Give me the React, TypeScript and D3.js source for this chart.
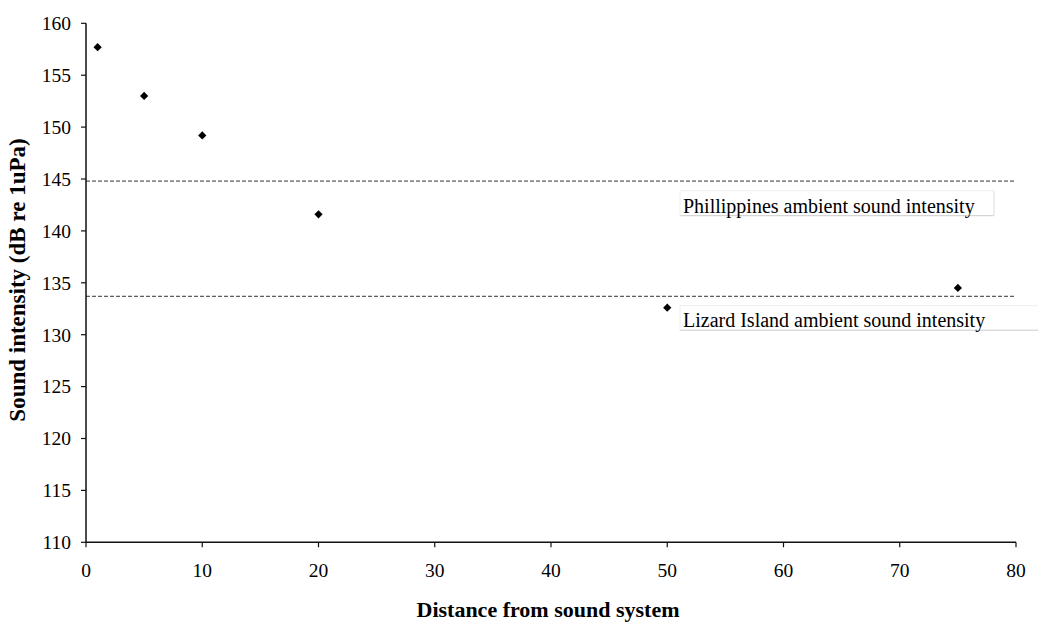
import React from "react";
import * as d3 from "d3";

const distances = [1, 5, 10, 20, 50, 75];
const intensities = [157.7, 153.0, 149.2, 141.6, 132.6, 134.5];
const refLines = [
  { label: "Phillippines ambient sound intensity", value: 144.8 },
  { label: "Lizard Island ambient sound intensity", value: 133.7 },
];
const xTicks = [0, 10, 20, 30, 40, 50, 60, 70, 80];
const yTicks = [110, 115, 120, 125, 130, 135, 140, 145, 150, 155, 160];

const W = 1038;
const H = 625;
const left = 86;
const right = 1016;
const top = 23.3;
const bottom = 542.3;
const font = "Liberation Serif, Times New Roman, serif";

export default function App() {
  const x = d3.scaleLinear().domain([0, 80]).range([left, right]);
  const y = d3.scaleLinear().domain([110, 160]).range([bottom, top]);
  const diamond = d3.symbol().type(d3.symbolSquare).size(34)();
  const labelBoxes = [
    { x0: 680, w: 314, yTop: 190.7, h: 25, base: 212.5 },
    { x0: 680, w: 360, yTop: 305.7, h: 24.5, base: 326.5 },
  ];
  return (
    <svg
      width={W}
      height={H}
      style={{ position: "absolute", left: 0, top: 0, background: "#fff", fontFamily: font }}
    >
      {refLines.map((r) => (
        <line
          key={r.label}
          x1={left}
          x2={right}
          y1={y(r.value)}
          y2={y(r.value)}
          stroke="#333"
          strokeWidth={1}
          strokeDasharray="4,2"
        />
      ))}
      {refLines.map((r, i) => {
        const b = labelBoxes[i];
        return (
          <g key={"lb" + i}>
            <rect x={b.x0} y={b.yTop} width={b.w} height={b.h} fill="#fff" />
            <line x1={b.x0} x2={b.x0 + b.w} y1={b.yTop + b.h} y2={b.yTop + b.h} stroke="#ccc" />
            <line x1={b.x0 + b.w} x2={b.x0 + b.w} y1={b.yTop} y2={b.yTop + b.h} stroke="#ddd" />
            <line x1={b.x0} x2={b.x0} y1={b.yTop} y2={b.yTop + b.h} stroke="#eee" />
            <line x1={b.x0} x2={b.x0 + b.w} y1={b.yTop} y2={b.yTop} stroke="#eee" />
            <text x={b.x0 + 3} y={b.base} fontSize={20} fill="#000">
              {r.label}
            </text>
          </g>
        );
      })}
      <line x1={left} x2={left} y1={top} y2={bottom} stroke="#111" strokeWidth={1.5} />
      <line x1={left} x2={right} y1={bottom} y2={bottom} stroke="#111" strokeWidth={1.5} />
      {yTicks.map((t) => (
        <g key={"y" + t}>
          <line x1={left - 5} x2={left} y1={y(t)} y2={y(t)} stroke="#111" strokeWidth={1.2} />
          <text x={71} y={y(t)} dy="0.35em" textAnchor="end" fontSize={19.5} fill="#000">
            {t}
          </text>
        </g>
      ))}
      {xTicks.map((t) => (
        <g key={"x" + t}>
          <line x1={x(t)} x2={x(t)} y1={bottom} y2={bottom + 5} stroke="#111" strokeWidth={1.2} />
          <text x={x(t)} y={577} textAnchor="middle" fontSize={19.5} fill="#000">
            {t}
          </text>
        </g>
      ))}
      {distances.map((d, i) => (
        <path
          key={"p" + i}
          d={diamond!}
          transform={`translate(${x(d)},${y(intensities[i])}) rotate(45)`}
          fill="#000"
        />
      ))}
      <text x={548} y={617} textAnchor="middle" fontSize={22} fontWeight="bold" fill="#000">
        Distance from sound system
      </text>
      <text
        transform={`translate(25,280) rotate(-90)`}
        textAnchor="middle"
        fontSize={23}
        fontWeight="bold"
        fill="#000"
      >
        Sound intensity (dB re 1uPa)
      </text>
    </svg>
  );
}
